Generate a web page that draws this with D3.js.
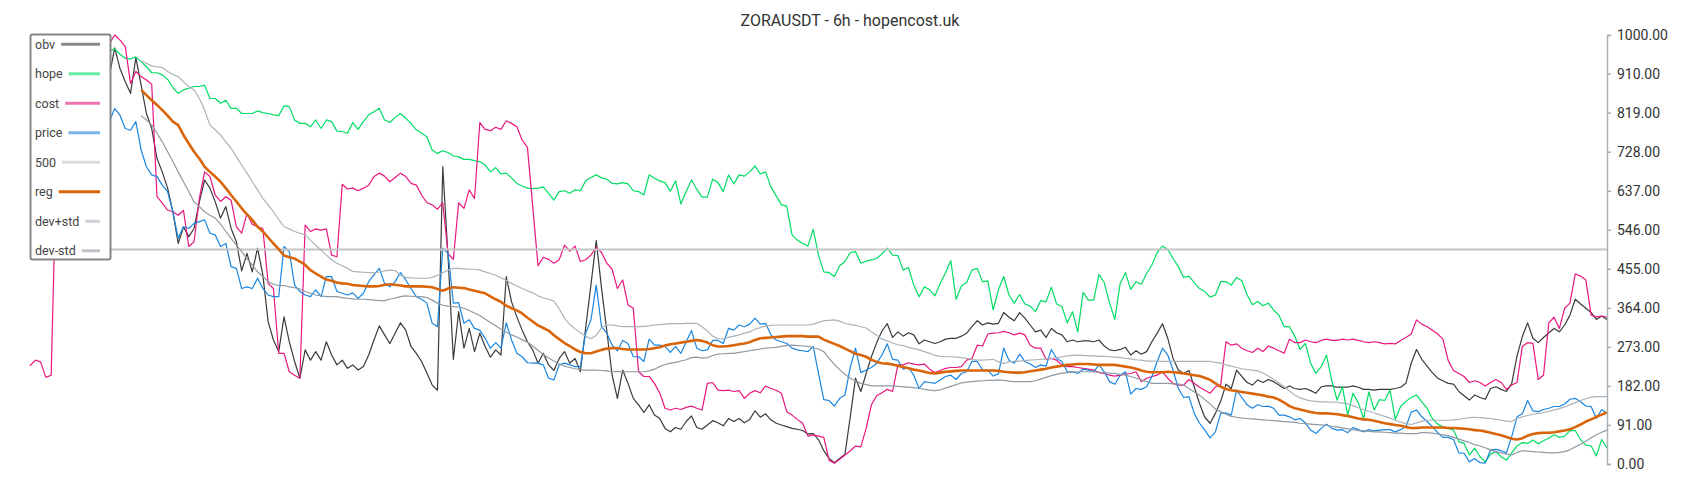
<!DOCTYPE html>
<html>
<head>
<meta charset="utf-8">
<script src="https://cdn.jsdelivr.net/npm/d3@7"></script>
<style>
  html, body { margin: 0; padding: 0; background: #fff; }
  svg { display: block; font-family: Roboto, "Noto Sans", sans-serif; }
</style>
</head>
<body>
<svg id="chart" width="1700" height="500"></svg>
<script>
const title = 'ZORAUSDT - 6h - hopencost.uk';
const tickValues = [0, 91, 182, 273, 364, 455, 546, 637, 728, 819, 910, 1000];
const lastIndex = 298;
const level = 500;

// each series starts at its own bar index (6h candles)
const obvStart = 15;
const obv = [905, 970, 922, 891, 864, 947, 883, 817, 782, 712, 681, 643, 588, 514, 553, 530, 549, 611, 662, 643, 611, 573, 600, 549, 518, 450, 491, 448, 503, 441, 332, 289, 262, 343, 285, 239, 200, 266, 242, 262, 242, 285, 254, 231, 242, 223,
  231, 219, 227, 254, 289, 322, 301, 281, 305, 329, 312, 274, 258, 239, 212, 184, 172, 693, 482, 244, 355, 270, 316, 262, 305, 274, 249, 266, 254, 437, 378, 343, 312, 285, 266, 235, 258, 231, 218, 246, 262, 235, 246, 215, 317, 418, 521, 410, 310, 207,
  153, 219, 188, 153, 138, 120, 138, 114, 106, 83, 75, 85, 81, 99, 112, 85, 81, 91, 101, 96, 89, 106, 99, 106, 96, 104, 124, 109, 117, 103, 95, 91, 87, 83, 81, 78, 70, 71, 57, 31, 13, 3, 13, 23, 110, 200, 169, 211, 250, 283,
  310, 327, 295, 308, 298, 306, 301, 280, 289, 285, 281, 285, 291, 293, 293, 298, 305, 320, 334, 324, 329, 326, 328, 353, 342, 334, 353, 340, 324, 308, 312, 295, 316, 306, 301, 285, 289, 285, 287, 287, 285, 289, 275, 266, 264, 267, 272, 254, 264, 256, 262,
  285, 305, 327, 293, 246, 219, 211, 218, 180, 141, 109, 95, 118, 146, 186, 176, 219, 204, 190, 184, 196, 190, 197, 192, 184, 176, 182, 176, 174, 176, 171, 165, 180, 182, 182, 179, 179, 179, 182, 179, 174, 174, 172, 174, 174, 174, 176, 179, 188, 235, 267,
  244, 228, 213, 200, 194, 188, 186, 169, 159, 149, 161, 155, 151, 176, 180, 174, 169, 188, 252, 297, 329, 293, 283, 295, 306, 316, 308, 324, 347, 384, 373, 363, 353, 337, 345, 337];

const hopeStart = 15;
const hope = [963, 967, 955, 946, 944, 949, 938, 926, 912, 912, 907, 897, 877, 864, 872, 876, 880, 880, 883, 852, 852, 841, 848, 829, 829, 817, 817, 817, 823, 819, 817, 814, 812, 835, 833, 802, 794, 794, 786, 802, 782, 802, 798, 776, 775, 771,
  796, 780, 798, 814, 821, 829, 802, 796, 808, 817, 806, 794, 779, 771, 763, 732, 724, 730, 726, 718, 716, 710, 710, 707, 705, 697, 681, 691, 676, 678, 667, 654, 648, 643, 642, 643, 646, 631, 615, 635, 637, 631, 639, 637, 660, 668, 674, 667, 664, 654,
  653, 656, 653, 637, 635, 627, 674, 666, 660, 656, 636, 660, 606, 635, 662, 640, 622, 622, 664, 656, 635, 674, 653, 674, 671, 681, 695, 676, 681, 646, 625, 604, 601, 534, 522, 514, 508, 547, 487, 448, 446, 437, 462, 472, 493, 495, 468, 473, 476, 479,
  490, 503, 487, 486, 452, 458, 417, 390, 413, 406, 392, 421, 446, 474, 384, 415, 423, 452, 456, 425, 427, 359, 406, 437, 394, 375, 395, 373, 368, 355, 381, 378, 412, 373, 367, 329, 355, 308, 400, 382, 382, 442, 423, 375, 337, 421, 446, 407, 425, 419, 444,
  464, 493, 508, 500, 479, 460, 435, 438, 423, 409, 402, 389, 394, 425, 425, 417, 435, 427, 394, 371, 379, 369, 375, 359, 347, 320, 320, 298, 267, 281, 235, 211, 227, 254, 194, 149, 180, 114, 165, 143, 106, 168, 126, 150, 148, 172, 104, 134, 146, 155, 161,
  145, 130, 106, 93, 87, 83, 79, 52, 48, 21, 37, 17, 5, 23, 29, 17, 9, 26, 42, 50, 48, 56, 47, 54, 60, 68, 62, 65, 78, 78, 57, 44, 42, 19, 57, 37];

const costStart = 0;
const cost = [229, 242, 238, 202, 207, 700, 820, 880, 900, 920, 940, 950, 960, 970, 975, 980,
  1000, 988, 973, 887, 915, 903, 895, 885, 623, 608, 592, 588, 580, 591, 507, 518, 619, 681, 670, 627, 612, 623, 615, 553, 538, 584, 559, 553, 549, 421, 409, 258, 258, 215, 207, 200, 557, 542, 548, 545, 548, 487, 483, 652, 641,
  643, 637, 643, 650, 670, 678, 671, 658, 668, 678, 670, 654, 650, 627, 609, 604, 594, 609, 490, 477, 609, 596, 639, 619, 796, 780, 777, 785, 780, 800, 794, 786, 755, 738, 600, 462, 482, 477, 468, 476, 510, 496, 508, 472, 476, 487, 505, 493, 468, 454,
  409, 429, 371, 363, 215, 204, 204, 188, 165, 130, 126, 130, 127, 132, 135, 130, 126, 188, 190, 172, 171, 172, 169, 171, 153, 165, 171, 166, 182, 176, 172, 165, 122, 114, 104, 95, 65, 68, 65, 62, 9, 2, 11, 21, 31, 42, 40, 83, 138, 159,
  166, 174, 169, 231, 231, 236, 233, 231, 233, 221, 213, 218, 223, 225, 225, 227, 242, 246, 277, 275, 303, 305, 306, 309, 306, 301, 305, 301, 277, 270, 270, 244, 246, 242, 231, 227, 227, 225, 223, 221, 219, 213, 211, 207, 205, 207, 210, 211, 215, 192, 200,
  204, 207, 215, 200, 188, 184, 184, 197, 188, 179, 172, 165, 180, 184, 285, 277, 280, 270, 264, 260, 270, 262, 275, 270, 264, 258, 291, 283, 283, 289, 285, 283, 288, 291, 288, 288, 291, 289, 291, 288, 285, 283, 285, 283, 280, 281, 280, 288, 295, 303, 336,
  326, 320, 312, 303, 291, 241, 218, 211, 204, 190, 194, 190, 182, 190, 197, 190, 174, 184, 190, 274, 283, 281, 197, 207, 329, 342, 316, 363, 375, 443, 438, 429, 347, 343, 345, 342];

const priceStart = 15;
const price = [798, 829, 813, 782, 778, 798, 732, 693, 674, 670, 650, 635, 588, 526, 553, 549, 561, 565, 569, 538, 534, 507, 514, 460, 456, 409, 413, 409, 433, 409, 394, 390, 390, 507, 495, 417, 402, 394, 390, 406, 390, 437, 437, 402, 398, 394,
  399, 386, 398, 425, 441, 456, 421, 413, 425, 446, 429, 409, 390, 384, 375, 328, 320, 503, 491, 375, 376, 328, 336, 316, 312, 293, 270, 283, 270, 329, 289, 258, 250, 236, 235, 235, 231, 200, 196, 231, 235, 231, 227, 227, 305, 336, 417, 320, 305, 277,
  264, 288, 281, 250, 250, 239, 291, 277, 277, 274, 260, 274, 258, 285, 311, 270, 264, 266, 288, 288, 281, 316, 312, 324, 320, 326, 340, 326, 328, 301, 289, 285, 281, 270, 266, 264, 262, 274, 211, 150, 148, 135, 153, 161, 225, 270, 213, 219, 225, 235,
  254, 280, 244, 242, 221, 225, 207, 176, 192, 190, 188, 196, 204, 207, 197, 211, 215, 239, 239, 219, 219, 205, 210, 270, 242, 235, 256, 239, 233, 225, 231, 228, 267, 246, 239, 215, 215, 211, 221, 219, 215, 231, 215, 192, 186, 207, 215, 163, 176, 174, 180,
  204, 239, 270, 254, 219, 176, 155, 157, 118, 95, 79, 61, 75, 118, 119, 114, 172, 155, 138, 130, 138, 134, 135, 130, 114, 114, 110, 103, 106, 96, 79, 71, 83, 93, 83, 79, 80, 73, 85, 80, 75, 80, 77, 79, 80, 80, 75, 80, 87, 121, 126,
  110, 99, 87, 73, 62, 62, 57, 26, 25, 5, 13, 3, 2, 33, 34, 31, 26, 64, 110, 117, 148, 124, 122, 127, 130, 134, 134, 140, 151, 153, 145, 135, 134, 106, 127, 118];

const regStart = 21;
const reg = [872, 860, 848, 837, 825, 812, 798, 790, 767, 747, 728, 712, 693, 681, 670, 658, 643, 627, 612, 596, 582, 569, 553, 542, 528, 514, 501, 486, 482, 479, 472, 464, 452, 444, 437, 430, 427, 423, 421, 420,
  417, 416, 415, 414, 414, 415, 418, 419, 418, 416, 414, 414, 414, 414, 413, 412, 408, 404, 409, 412, 411, 410, 407, 404, 401, 398, 391, 384, 378, 369, 363, 358, 351, 341, 332, 323, 317, 311, 300, 291, 282, 275, 267, 261, 258, 258, 262, 266, 269, 270,
  270, 268, 267, 267, 267, 267, 268, 270, 272, 276, 279, 281, 283, 285, 287, 289, 287, 283, 277, 274, 274, 275, 277, 279, 281, 284, 289, 293, 294, 295, 296, 297, 298, 298, 298, 298, 297, 297, 297, 290, 285, 280, 275, 269, 263, 257, 254, 250, 243, 238,
  235, 234, 232, 229, 226, 223, 220, 218, 215, 212, 211, 213, 215, 216, 217, 218, 218, 218, 218, 218, 218, 218, 217, 215, 214, 213, 213, 214, 216, 218, 220, 222, 225, 227, 229, 231, 232, 233, 233, 233, 232, 231, 231, 231, 231, 229, 227, 225, 222, 218, 215,
  214, 214, 214, 215, 214, 213, 211, 209, 207, 205, 201, 196, 188, 180, 175, 172, 170, 168, 166, 164, 162, 160, 157, 155, 150, 143, 135, 130, 127, 124, 121, 119, 118, 118, 117, 116, 114, 112, 109, 106, 104, 103, 101, 98, 95, 93, 91, 89, 86, 84, 84,
  85, 85, 85, 85, 85, 84, 84, 83, 82, 81, 79, 78, 76, 73, 70, 67, 63, 59, 57, 60, 66, 70, 72, 73, 73, 74, 76, 78, 81, 86, 92, 99, 104, 110, 115, 120];

const devUpStart = 21;
const devUp = [939, 934, 928, 926, 924, 915, 908, 903, 891, 880, 872, 852, 825, 790, 779, 767, 751, 736, 716, 697, 678, 658, 639, 619, 604, 588, 570, 553, 548, 542, 538, 534, 522, 510, 499, 487, 476, 468, 462, 456,
  449, 448, 447, 446, 446, 447, 450, 452, 451, 440, 435, 434, 433, 433, 433, 435, 440, 446, 452, 456, 456, 455, 454, 454, 452, 448, 444, 440, 434, 428, 421, 415, 409, 404, 399, 392, 387, 384, 380, 362, 340, 325, 315, 306, 298, 292, 300, 318, 324, 324,
  322, 320, 320, 320, 320, 321, 322, 324, 325, 326, 327, 327, 327, 328, 328, 328, 320, 310, 298, 292, 292, 295, 298, 301, 305, 308, 314, 318, 322, 323, 324, 324, 324, 324, 324, 324, 324, 326, 330, 334, 335, 336, 333, 328, 325, 323, 320, 317, 308, 300,
  291, 287, 282, 278, 276, 272, 269, 266, 262, 258, 253, 251, 250, 250, 249, 248, 246, 244, 242, 242, 243, 244, 238, 234, 238, 239, 240, 241, 242, 243, 244, 245, 246, 248, 250, 252, 253, 254, 253, 252, 252, 251, 251, 250, 249, 248, 246, 245, 243, 242, 240,
  240, 240, 239, 239, 239, 239, 239, 239, 239, 239, 239, 239, 237, 235, 231, 228, 225, 222, 220, 219, 217, 212, 205, 198, 189, 180, 170, 161, 154, 150, 147, 146, 145, 145, 144, 144, 142, 140, 136, 131, 127, 123, 119, 115, 111, 107, 102, 98, 94, 92, 96,
  100, 102, 102, 102, 102, 102, 103, 104, 106, 108, 109, 108, 107, 106, 104, 102, 100, 99, 106, 110, 113, 116, 118, 120, 123, 126, 129, 133, 138, 143, 148, 152, 156, 157, 157, 157];

const devDownStart = 21;
const devDown = [812, 802, 790, 771, 751, 728, 705, 681, 658, 635, 611, 600, 588, 580, 573, 559, 542, 526, 510, 495, 479, 464, 448, 437, 425, 419, 416, 416, 413, 411, 408, 402, 398, 394, 392, 390, 390, 390, 388, 386,
  385, 384, 384, 383, 382, 381, 381, 384, 387, 390, 392, 391, 390, 390, 388, 382, 375, 370, 368, 367, 366, 363, 358, 352, 346, 338, 330, 322, 314, 307, 301, 296, 290, 284, 275, 265, 255, 247, 240, 233, 228, 225, 222, 220, 219, 219, 219, 218, 217, 215,
  216, 215, 215, 215, 215, 215, 217, 221, 227, 232, 235, 237, 240, 243, 248, 249, 247, 248, 253, 256, 257, 258, 258, 260, 262, 264, 266, 268, 270, 271, 272, 274, 276, 277, 276, 275, 274, 271, 268, 262, 246, 232, 220, 209, 200, 194, 188, 185, 182, 182,
  182, 182, 182, 181, 180, 179, 178, 176, 174, 172, 171, 173, 177, 181, 185, 189, 191, 192, 193, 194, 195, 195, 196, 195, 193, 192, 192, 192, 192, 194, 198, 202, 206, 209, 212, 213, 214, 215, 215, 215, 215, 214, 213, 212, 211, 209, 207, 204, 200, 196, 192,
  188, 188, 188, 188, 187, 187, 184, 176, 168, 160, 150, 140, 128, 122, 116, 111, 109, 107, 106, 105, 104, 103, 102, 101, 100, 99, 98, 97, 95, 94, 93, 92, 91, 90, 88, 86, 84, 82, 80, 78, 77, 76, 75, 75, 74, 73, 72, 72, 71, 71, 71,
  73, 73, 72, 70, 68, 66, 62, 58, 54, 50, 45, 42, 38, 33, 29, 26, 23, 21, 27, 31, 30, 29, 28, 27, 26, 26, 27, 29, 33, 40, 46, 53, 61, 68, 74, 79];

const series = [
  { name: 'obv', start: obvStart, values: obv, color: '#3a3a3a', width: 1.2 },
  { name: 'hope', start: hopeStart, values: hope, color: '#00dc64', width: 1.2 },
  { name: 'cost', start: costStart, values: cost, color: '#e8177f', width: 1.2 },
  { name: 'price', start: priceStart, values: price, color: '#1a86e0', width: 1.2 },
  { name: '500', level: level, color: '#c4c4c4', width: 2 },
  { name: 'reg', start: regStart, values: reg, color: '#d9650a', width: 2.6 },
  { name: 'dev+std', start: devUpStart, values: devUp, color: '#abb3ba', width: 1.2 },
  { name: 'dev-std', start: devDownStart, values: devDown, color: '#8f9aa3', width: 1.2 },
];

const svg = d3.select('#chart');
const plot = { left: 30, right: 1607, top: 35, bottom: 464 };

const x = d3.scaleLinear().domain([0, lastIndex]).range([plot.left, plot.right]);
const y = d3.scaleLinear().domain([0, 1000]).range([plot.bottom, plot.top]);

const line = d3.line()
  .x(d => x(d.i))
  .y(d => y(d.v));

const lines = svg.append('g').attr('fill', 'none');
series.forEach((s) => {
  const pts = s.values
    ? s.values.map((v, k) => ({ i: s.start + k, v }))
    : [{ i: 0, v: s.level }, { i: lastIndex, v: s.level }];
  lines.append('path')
    .datum(pts)
    .attr('stroke', s.color)
    .attr('stroke-width', s.width)
    .attr('stroke-linejoin', 'round')
    .attr('d', line);
});

// right axis
const axis = svg.append('g')
  .attr('transform', `translate(${plot.right},0)`)
  .call(d3.axisRight(y)
    .tickValues(tickValues)
    .tickFormat(d3.format('.2f'))
    .tickSize(4)
    .tickPadding(6));
axis.select('.domain').attr('stroke', '#aab2b9').attr('stroke-width', 1.5);
axis.selectAll('.tick line').attr('stroke', '#aab2b9').attr('stroke-width', 1.5);
axis.selectAll('.tick text')
  .attr('fill', '#333')
  .style('font-size', '14px')
  .style('font-family', 'Roboto, sans-serif');

svg.append('text')
  .attr('x', 850)
  .attr('y', 25.5)
  .attr('text-anchor', 'middle')
  .attr('fill', '#333')
  .style('font-size', '16px')
  .text(title);

// legend box on top of the lines
const legend = svg.append('g');
legend.append('rect')
  .attr('x', 30.5)
  .attr('y', 34.5)
  .attr('width', 80)
  .attr('height', 225)
  .attr('rx', 2)
  .attr('fill', '#fff')
  .attr('stroke', '#858585')
  .attr('stroke-width', 2);

series.forEach((s, k) => {
  const cy = 44.3 + k * 29.5;
  const label = legend.append('text')
    .attr('x', 35)
    .attr('y', cy)
    .attr('dy', '0.35em')
    .attr('fill', '#444')
    .style('font-size', '12.5px')
    .text(s.name);
  const end = 35 + label.node().getComputedTextLength();
  legend.append('line')
    .attr('x1', end + 6)
    .attr('x2', 100)
    .attr('y1', cy)
    .attr('y2', cy)
    .attr('stroke', s.color)
    .attr('stroke-opacity', s.name === 'reg' ? 1 : 0.6)
    .attr('stroke-width', 3);
});
</script>
</body>
</html>
